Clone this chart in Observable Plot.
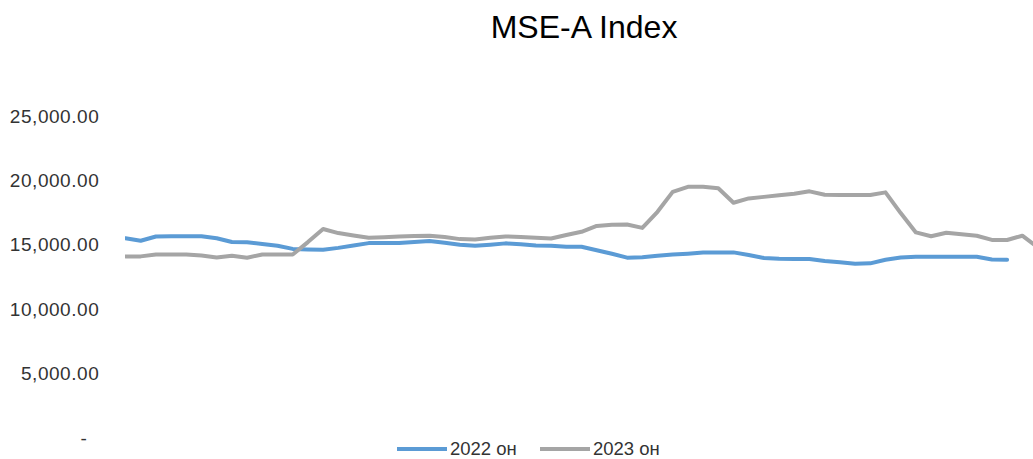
<!DOCTYPE html>
<html><head><meta charset="utf-8">
<script src="https://cdn.jsdelivr.net/npm/d3@7"></script>
<script src="https://cdn.jsdelivr.net/npm/@observablehq/plot@0.6"></script>
<style>
body{margin:0;background:#fff;font-family:"Liberation Sans",Arial,sans-serif;}
#wrap{position:relative;width:1033px;height:459px;}
#title{position:relative;height:58px;}
#title span{position:absolute;left:584px;top:9px;transform:translateX(-50%);font-size:32px;color:#000;white-space:nowrap;line-height:normal;}
#legend{position:relative;height:15px;}
#legend .sw{position:absolute;height:4px;top:3.2px;}
#legend .lt{position:absolute;top:-2.7px;height:15px;font-size:18.5px;line-height:15px;color:#333;white-space:nowrap;}
svg{display:block;overflow:visible;}
svg g[aria-label="y-axis tick label"] text{letter-spacing:0.55px;}
</style>
</head><body>
<div id="wrap">
  <div id="title"><span>MSE-A Index</span></div>
  <div id="chart"></div>
  <div id="legend"></div>
</div>
<script>
const seriesNames = ["2022 он", "2023 он"];
const seriesColors = ["#5B9BD5", "#A5A5A5"];
const yTicks = [5000, 10000, 15000, 20000, 25000];

const v2022 = [15550,15350,15680,15700,15700,15700,15550,15260,15230,15100,
  14970,14720,14680,14660,14800,14980,15170,15180,15180,15250,
  15330,15200,15050,14970,15050,15150,15080,14980,14970,14880,
  14890,14620,14340,14040,14080,14180,14280,14350,14440,14450,
  14450,14250,14020,13950,13930,13930,13780,13680,13560,13600,
  13880,14060,14110,14110,14110,14110,14110,13900,13880];

const v2023 = [14140,14140,14280,14290,14290,14200,14060,14190,14035,14290,
  14290,14290,15250,16265,15950,15760,15580,15630,15690,15720,
  15745,15650,15480,15450,15580,15690,15650,15580,15530,15800,
  16050,16500,16600,16620,16350,17600,19150,19540,19540,19430,
  18300,18640,18760,18880,19000,19190,18920,18910,18910,18910,
  19110,17500,16000,15700,15970,15850,15745,15420,15410,15745,
  14850];

const fmt = d3.format(",.2f");
const chart = Plot.plot({
  width: 1033, height: 386,
  marginLeft: 125, marginRight: 0, marginTop: 58, marginBottom: 6,
  x: {domain: [0, 60], range: [125, 1037], axis: null},
  y: {domain: [0, 25000], range: [380, 58], axis: null},
  style: {fontFamily: "Liberation Sans, Arial, sans-serif", fontSize: "19px", color: "#333", background: "transparent", overflow: "visible"},
  marks: [
    Plot.axisY({ticks: yTicks, tickFormat: fmt, tickSize: 0, tickPadding: 26.2, fontSize: 19, label: null}),
    Plot.axisY({ticks: [0], tickFormat: () => "-", tickSize: 0, tickPadding: 38, fontSize: 19, label: null}),
    Plot.lineY(v2022, {x: (d, i) => i, y: d => d, stroke: seriesColors[0], strokeWidth: 4, clip: true}),
    Plot.lineY(v2023, {x: (d, i) => i, y: d => d, stroke: seriesColors[1], strokeWidth: 4, clip: true})
  ]
});
document.getElementById("chart").appendChild(chart);

const legend = document.getElementById("legend");
const legendPos = [[397, 450], [540, 593]];
seriesNames.forEach((name, k) => {
  const sw = document.createElement("div");
  sw.className = "sw";
  sw.style.left = legendPos[k][0] + "px";
  sw.style.width = "50px";
  sw.style.background = seriesColors[k];
  legend.appendChild(sw);
  const t = document.createElement("span");
  t.className = "lt";
  t.style.left = legendPos[k][1] + "px";
  t.textContent = name;
  legend.appendChild(t);
});
</script>
</body></html>
